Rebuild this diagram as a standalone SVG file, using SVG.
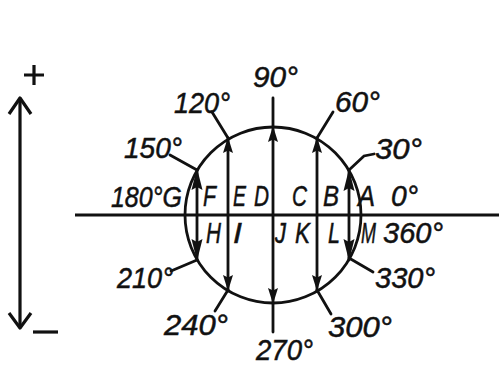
<svg xmlns="http://www.w3.org/2000/svg" width="499" height="365" viewBox="0 0 499 365">
<style>
.ln{stroke:#111;stroke-width:2.8;fill:none;stroke-linecap:round}
.th{stroke:#111;stroke-width:3.2;fill:none}
.t{font-family:"Liberation Sans",Arial,sans-serif;font-style:italic;font-size:29px;fill:#111;stroke:#111;stroke-width:0.5}
.ah{fill:#111}
</style>
<defs>
<path id="big" d="M0,0 L5.5,22 L0,19 L-5.5,22 Z"/>
<path id="sm" d="M0,0 L5,16 L0,13.5 L-5,16 Z"/>
</defs>
<rect width="499" height="365" fill="#fff"/>
<g id="scale-arrow">
<line class="th" x1="20" y1="99" x2="20" y2="327"/>
<polyline class="th" points="9,114 20,98 31,114" stroke-linejoin="round"/>
<polyline class="th" points="9,313 20,328 31,313" stroke-linejoin="round"/>
<path class="th" d="M24,75 H44 M34,65 V85"/>
<line class="th" x1="33" y1="332" x2="58" y2="332"/>
</g>
<g id="connectors">
<line class="th" x1="75" y1="215" x2="499" y2="215"/>
<circle class="ln" cx="273" cy="215" r="88"/>
<line class="ln" x1="197" y1="170" x2="197" y2="260"/>
<line class="ln" x1="228" y1="138" x2="228" y2="291"/>
<line class="ln" x1="273" y1="98" x2="273" y2="332"/>
<line class="ln" x1="317" y1="138" x2="317" y2="291"/>
<line class="ln" x1="349" y1="170" x2="349" y2="260"/>
<line class="ln" x1="170" y1="155" x2="197" y2="170"/>
<line class="ln" x1="212" y1="112" x2="228" y2="138"/>
<line class="ln" x1="317" y1="138" x2="333" y2="112"/>
<polyline class="ln" points="349,170 364,156 374,154"/>
<line class="ln" x1="349" y1="258" x2="373" y2="272"/>
<line class="ln" x1="317" y1="290" x2="331" y2="314"/>
<line class="ln" x1="228" y1="290" x2="215" y2="311"/>
<line class="ln" x1="171" y1="271" x2="197" y2="260"/>
<g class="ah">
<use href="#big" transform="translate(197,168)"/>
<use href="#sm" transform="translate(228,137)"/>
<use href="#sm" transform="translate(273,126)"/>
<use href="#sm" transform="translate(317,137)"/>
<use href="#big" transform="translate(349,169)"/>
<use href="#big" transform="translate(197,261) rotate(180)"/>
<use href="#sm" transform="translate(228,291) rotate(180)"/>
<use href="#sm" transform="translate(273,304) rotate(180)"/>
<use href="#sm" transform="translate(317,291) rotate(180)"/>
<use href="#big" transform="translate(349,261) rotate(180)"/>
</g>
</g>
<g id="angles">
<text class="t" x="253" y="87" textLength="45" lengthAdjust="spacingAndGlyphs">90°</text>
<text class="t" x="174" y="113" textLength="56" lengthAdjust="spacingAndGlyphs">120°</text>
<text class="t" x="335" y="112" textLength="45" lengthAdjust="spacingAndGlyphs">60°</text>
<text class="t" x="124" y="158" textLength="58" lengthAdjust="spacingAndGlyphs">150°</text>
<text class="t" x="375" y="159" textLength="47" lengthAdjust="spacingAndGlyphs">30°</text>
<text class="t" x="111" y="207" textLength="71" lengthAdjust="spacingAndGlyphs">180°G</text>
<text class="t" x="391" y="206" textLength="27" lengthAdjust="spacingAndGlyphs">0°</text>
<text class="t" x="383" y="243" textLength="60" lengthAdjust="spacingAndGlyphs">360°</text>
<text class="t" x="117" y="288" textLength="56" lengthAdjust="spacingAndGlyphs">210°</text>
<text class="t" x="164" y="335" textLength="64" lengthAdjust="spacingAndGlyphs">240°</text>
<text class="t" x="256" y="360" textLength="57" lengthAdjust="spacingAndGlyphs">270°</text>
<text class="t" x="328" y="337" textLength="64" lengthAdjust="spacingAndGlyphs">300°</text>
<text class="t" x="375" y="288" textLength="60" lengthAdjust="spacingAndGlyphs">330°</text>
</g>
<g id="letters">
<text class="t" x="203" y="206" textLength="13" lengthAdjust="spacingAndGlyphs">F</text>
<text class="t" x="233" y="206" textLength="13" lengthAdjust="spacingAndGlyphs">E</text>
<text class="t" x="254" y="206" textLength="15" lengthAdjust="spacingAndGlyphs">D</text>
<text class="t" x="292" y="206" textLength="15" lengthAdjust="spacingAndGlyphs">C</text>
<text class="t" x="323" y="206" textLength="16" lengthAdjust="spacingAndGlyphs">B</text>
<text class="t" x="358" y="206" textLength="17" lengthAdjust="spacingAndGlyphs">A</text>
<text class="t" x="206" y="243" textLength="15" lengthAdjust="spacingAndGlyphs">H</text>
<text class="t" x="233" y="243" textLength="9" lengthAdjust="spacingAndGlyphs">I</text>
<text class="t" x="275" y="243" textLength="11" lengthAdjust="spacingAndGlyphs">J</text>
<text class="t" x="295" y="243" textLength="15" lengthAdjust="spacingAndGlyphs">K</text>
<text class="t" x="328" y="243" textLength="12" lengthAdjust="spacingAndGlyphs">L</text>
<text class="t" x="361" y="243" textLength="15" lengthAdjust="spacingAndGlyphs">M</text>
</g>
</svg>
